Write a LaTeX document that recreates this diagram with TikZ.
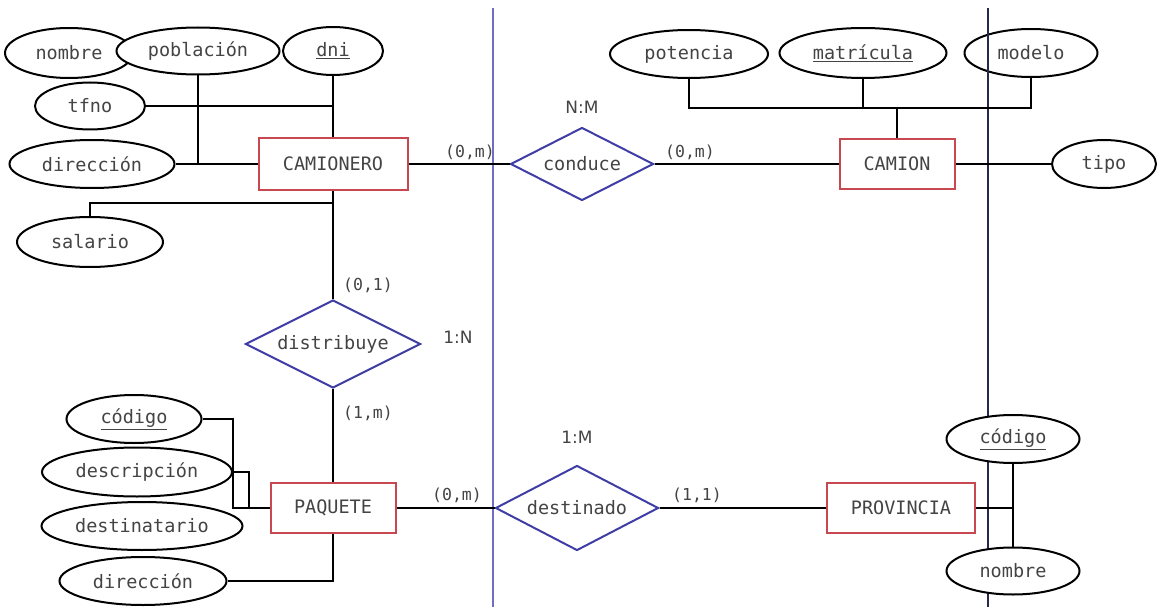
\documentclass[tikz,border=0pt]{standalone}
\usepackage{fontspec}
\newfontfamily\monof{DejaVu Sans Mono}
\newfontfamily\sansf{DejaVu Sans}
\usetikzlibrary{shapes.geometric}
\definecolor{boxred}{RGB}{200,72,82}
\definecolor{diablue}{RGB}{62,62,165}
\definecolor{lineblue}{RGB}{110,110,195}
\definecolor{linedark}{RGB}{40,40,75}
\definecolor{txt}{RGB}{68,68,68}
\tikzset{
  attr/.style={ellipse,draw=black,line width=2pt,fill=white,inner sep=0pt,
    text=txt,font=\monof\fontsize{18.5}{21}\selectfont},
  ent/.style={rectangle,draw=boxred,line width=2pt,fill=white,inner sep=0pt,
    text=txt,font=\monof\fontsize{18.5}{21}\selectfont},
  rel/.style={diamond,aspect=2,draw=diablue,line width=2pt,fill=white,inner sep=0pt,
    text=txt,font=\monof\fontsize{18.5}{21}\selectfont},
  card/.style={inner sep=0pt,text=txt,font=\monof\fontsize{16.5}{19}\selectfont},
  ratio/.style={inner sep=0pt,text=txt,font=\sansf\fontsize{17}{20}\selectfont},
  conn/.style={draw=black,line width=2pt},
}
\begin{document}
\begin{tikzpicture}[x=1pt,y=-1pt]
\useasboundingbox (0,0) rectangle (1157,607);
\fill[white] (0,0) rectangle (1157,607);
% divider coordinates
\coordinate (bt) at (493,8);
\coordinate (bb) at (493,607);
\coordinate (dt) at (988,8);
\coordinate (db) at (988,607);
\draw[lineblue,line width=1.3pt] (bt) -- (bb);

% CAMIONERO attributes
\node[attr,minimum width=128pt,minimum height=50pt] (nom1) at (69,53) {nombre};
\node[attr,minimum width=163pt,minimum height=47pt] (pob) at (198,51) {población};
\node[attr,minimum width=100pt,minimum height=48pt] (dni) at (333,51) {\underline{dni}};
\node[attr,minimum width=110pt,minimum height=47pt] (tfno) at (90,106) {tfno};
\node[attr,minimum width=165pt,minimum height=48pt] (dir1) at (92,164) {dirección};
\node[attr,minimum width=146pt,minimum height=50pt] (sal) at (90,242) {salario};
\node[ent,minimum width=149pt,minimum height=52pt] (cam) at (333,164) {CAMIONERO};

% CAMION attributes
\node[attr,minimum width=158pt,minimum height=48pt] (pot) at (689,54) {potencia};
\node[attr,minimum width=167pt,minimum height=50pt] (mat) at (863,53) {\underline{matrícula}};
\node[attr,minimum width=133pt,minimum height=48pt] (mod) at (1031,53) {modelo};
\node[ent,minimum width=115pt,minimum height=50pt] (cmn) at (897,164) {CAMION};
\node[attr,minimum width=104pt,minimum height=48pt] (tipo) at (1104,164) {tipo};

% relations
\node[rel,minimum width=143pt,minimum height=73pt] (cond) at (582,164) {conduce};
\node[rel,minimum width=175pt,minimum height=88pt] (dist) at (333,344) {distribuye};
\node[rel,minimum width=163pt,minimum height=85pt] (dest) at (577,508) {destinado};

% PAQUETE
\node[attr,minimum width=135pt,minimum height=48pt] (cod1) at (134,419) {\underline{código}};
\node[attr,minimum width=190pt,minimum height=49pt] (desc) at (137,472) {descripción};
\node[attr,minimum width=201pt,minimum height=48pt] (dsti) at (142,526) {destinatario};
\node[attr,minimum width=167pt,minimum height=48pt] (dir2) at (143,581) {dirección};
\node[ent,minimum width=125pt,minimum height=50pt] (paq) at (333,508) {PAQUETE};

% PROVINCIA
\node[ent,minimum width=148pt,minimum height=50pt] (prov) at (901,508) {PROVINCIA};

% dark divider (over modelo, under provincia attributes)
\draw[linedark,line width=1.5pt] (dt) -- (db);
\node[attr,minimum width=133pt,minimum height=48pt] (cod2) at (1013,439) {\underline{código}};
\node[attr,minimum width=133pt,minimum height=47pt] (nom2) at (1013,571) {nombre};

% junction coordinates
\coordinate (j1) at (333,203);
\coordinate (h2) at (689,108);
\coordinate (j3) at (233,508);
\coordinate (j4) at (249,508);

% connectors CAMIONERO
\draw[conn] (pob.south) -- (pob.south |- dir1.east);
\draw[conn] (dir1.east) -- (cam.west);
\draw[conn] (dni.south) -- (cam.north);
\draw[conn] (tfno.east) -- (tfno.east -| dni.south);
\draw[conn] (sal.north) |- (j1);
\draw[conn] (cam.south) -- (dist.north);
\draw[conn] (cam.east) -- (cond.west);
\draw[conn] (cond.east) -- (cmn.west);

% connectors CAMION
\draw[conn] (pot.south) -- (h2) -| (mod.south);
\draw[conn] (mat.south) -- (mat.south |- h2);
\draw[conn] (cmn.north) -- (cmn.north |- h2);
\draw[conn] (cmn.east) -- (tipo.west);

% connectors PAQUETE
\draw[conn] (dist.south) -- (paq.north);
\draw[conn] (cod1.east) -| (j3) -- (paq.west);
\draw[conn] (desc.east) -| (j4);
\draw[conn] (dir2.east) -| (paq.south);
\draw[conn] (paq.east) -- (dest.west);
\draw[conn] (dest.east) -- (prov.west);

% connectors PROVINCIA
\draw[conn] (cod2.south) -- (nom2.north);
\draw[conn] (prov.east) -- (prov.east -| cod2.south);

% cardinalities
\node[card] (c1) at (470,152) {(0,m)};
\node[card] (c2) at (690,152) {(0,m)};
\node[card] (c3) at (368,285) {(0,1)};
\node[card] (c4) at (368,413) {(1,m)};
\node[card] (c5) at (457,495) {(0,m)};
\node[card] (c6) at (697,495) {(1,1)};
\node[ratio] (r1) at (582,107) {N:M};
\node[ratio] (r2) at (458,337) {1:N};
\node[ratio] (r3) at (577,437) {1:M};
\end{tikzpicture}
\end{document}
